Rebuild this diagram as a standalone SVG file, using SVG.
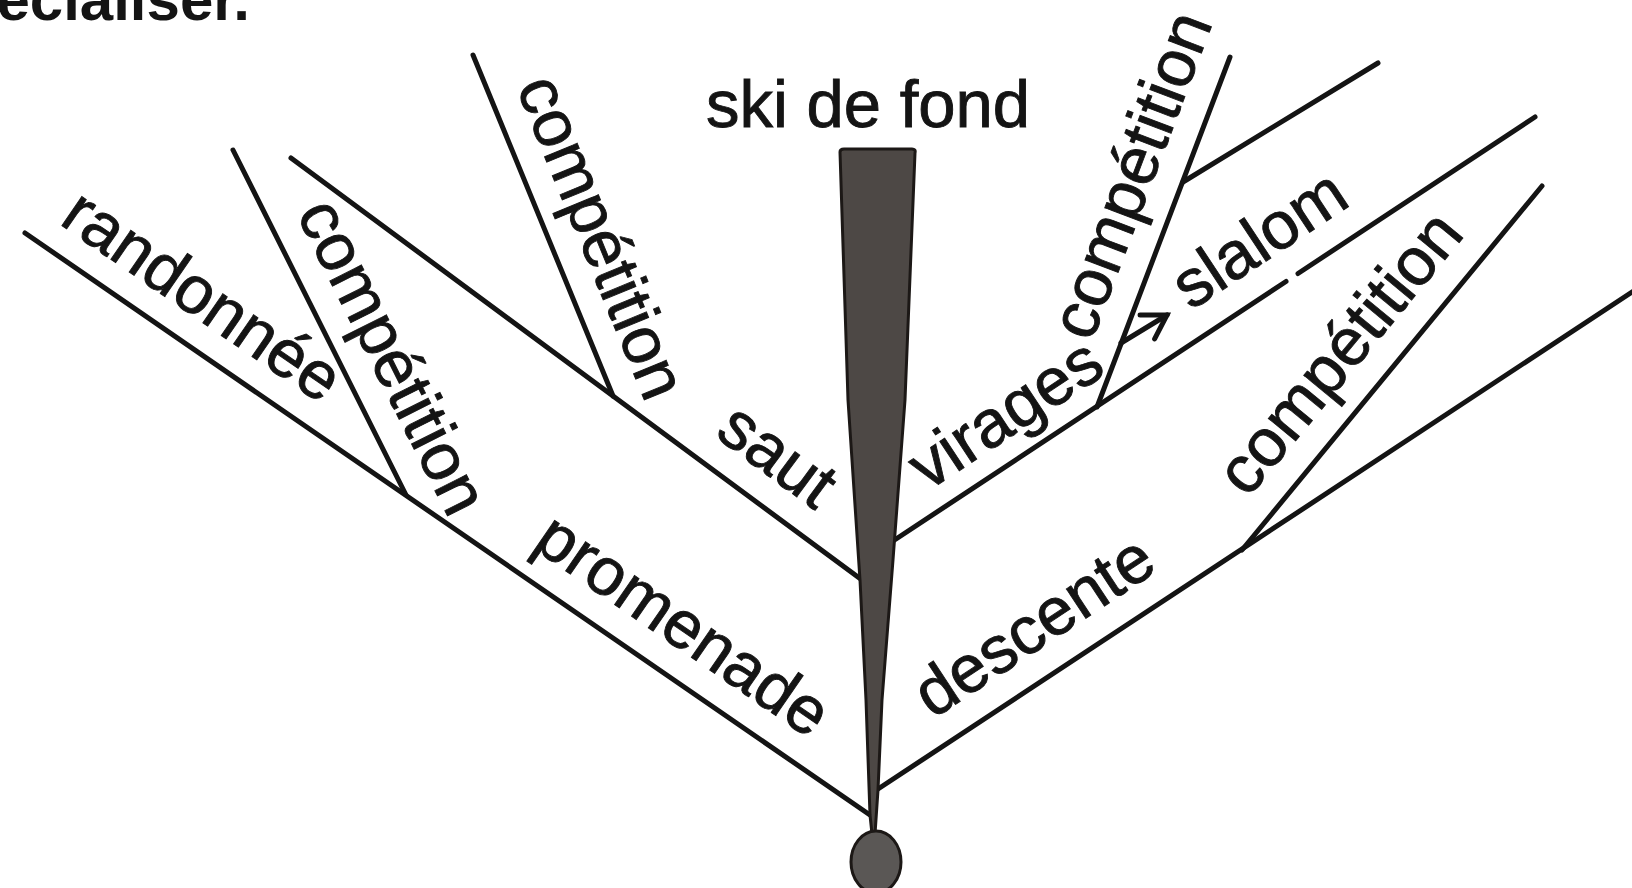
<svg xmlns="http://www.w3.org/2000/svg" width="1632" height="888" viewBox="0 0 1632 888">
  <defs>
    <style>
      .lbl { font-family: "Liberation Sans", Arial, sans-serif; font-size: 67px; fill: #141414; stroke: #141414; stroke-width: 0.9px; }
      .top { font-family: "Liberation Sans", Arial, sans-serif; font-size: 60px; font-weight: bold; fill: #141414; }
      .ln { fill: none; stroke: #141414; stroke-width: 5; stroke-linecap: round; }
    </style>
    <marker id="openArrow" markerUnits="userSpaceOnUse" markerWidth="40" markerHeight="40" viewBox="-30 -20 40 40" refX="0" refY="0" orient="auto">
      <path d="M-23,-14 L0,0 L-23,14" fill="none" stroke="#141414" stroke-width="5" stroke-linecap="round" stroke-linejoin="miter"/>
    </marker>
  </defs>
  <rect width="1632" height="888" fill="#ffffff"/>

  <text class="top" x="250" y="20" text-anchor="end">spécialiser.</text>

  <g id="connectors">
    <line class="ln" x1="25" y1="233" x2="870" y2="815"/>
    <line class="ln" x1="233" y1="150" x2="406" y2="495"/>
    <line class="ln" x1="291" y1="158" x2="862" y2="580"/>
    <line class="ln" x1="473" y1="55" x2="613" y2="396"/>
    <line class="ln" x1="893" y1="541" x2="1286" y2="281.5"/>
    <line class="ln" x1="1298" y1="273.5" x2="1535" y2="117"/>
    <line class="ln" x1="1097" y1="407" x2="1230" y2="57"/>
    <line class="ln" x1="1183" y1="182" x2="1378" y2="63"/>
    <line class="ln" x1="878" y1="789" x2="1632" y2="292"/>
    <line class="ln" x1="1242" y1="550" x2="1542" y2="186"/>
    <line class="ln" x1="1121" y1="343" x2="1167" y2="315" marker-end="url(#openArrow)"/>
  </g>

  <g id="trunk">
    <path d="M840,152 Q840,149 844,149 L912,149 Q916,149 915,153 L905,400 L893,560 L882,700 L878,790 L875,834 L872,834 L870,815 L866,700 L860,580 L848,400 Z" fill="#4d4845" stroke="#1c1816" stroke-width="3" stroke-linejoin="round"/>
  </g>
  <g id="ball">
    <ellipse cx="876" cy="862" rx="25" ry="31" fill="#5a5755" stroke="#1c1816" stroke-width="3"/>
  </g>

  <g id="node-ski-de-fond"><text class="lbl" x="706" y="127">ski de fond</text></g>
  <g id="node-randonnee"><text class="lbl" transform="translate(58,223) rotate(34.56)">randonnée</text></g>
  <g id="node-competition-1"><text class="lbl" transform="translate(296,213.5) rotate(63.4)">compétition</text></g>
  <g id="node-competition-2"><text class="lbl" transform="translate(516,87) rotate(67.7)">compétition</text></g>
  <g id="node-saut"><text class="lbl" transform="translate(713.6,435.5) rotate(36.47)">saut</text></g>
  <g id="node-promenade"><text class="lbl" transform="translate(531,547) rotate(34.56)">promenade</text></g>
  <g id="node-virages"><text class="lbl" transform="translate(927.6,491.7) rotate(-33.44)">virages</text></g>
  <g id="node-competition-3"><text class="lbl" transform="translate(1091.4,342.9) rotate(-69.2)">compétition</text></g>
  <g id="node-slalom"><text class="lbl" transform="translate(1190.7,311) rotate(-33.44)">slalom</text></g>
  <g id="node-competition-4"><text class="lbl" transform="translate(1247.7,499) rotate(-50.5)">compétition</text></g>
  <g id="node-descente"><text class="lbl" transform="translate(932.7,719.4) rotate(-33.4)">descente</text></g>
</svg>
